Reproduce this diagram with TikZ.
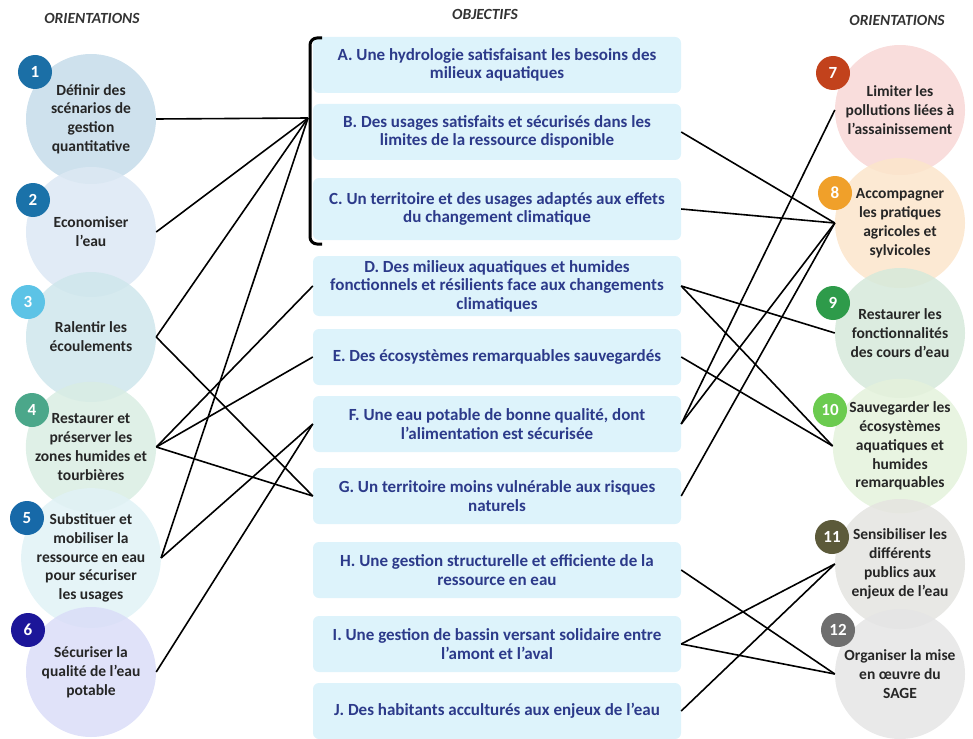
\documentclass[tikz,border=0pt]{standalone}
\usepackage{fontspec}
\setmainfont{Carlito}
\usepackage{xcolor}
\usetikzlibrary{positioning}

\definecolor{boxblue}{HTML}{DDF3FB}
\definecolor{boxtext}{HTML}{2C3A8A}
\definecolor{headgray}{HTML}{333333}
\definecolor{textgray}{HTML}{262626}
\definecolor{cA}{HTML}{C6DCEA}\definecolor{bA}{HTML}{1B6FA6}
\definecolor{cB}{HTML}{DCE8F4}\definecolor{bB}{HTML}{1A72A9}
\definecolor{cC}{HTML}{CFE6EC}\definecolor{bC}{HTML}{5CC3E6}
\definecolor{cD}{HTML}{D9EDE3}\definecolor{bD}{HTML}{4BA78A}
\definecolor{cE}{HTML}{E0F2F6}\definecolor{bE}{HTML}{1769A8}
\definecolor{cF}{HTML}{DADDF8}\definecolor{bF}{HTML}{1C1699}
\definecolor{cG}{HTML}{F8D7D6}\definecolor{bG}{HTML}{C2421C}
\definecolor{cH}{HTML}{FCE5CB}\definecolor{bH}{HTML}{F0A02A}
\definecolor{cI}{HTML}{D6E9DA}\definecolor{bI}{HTML}{2E9B4A}
\definecolor{cJ}{HTML}{E4F2DC}\definecolor{bJ}{HTML}{6BCB4F}
\definecolor{cK}{HTML}{E4E4E0}\definecolor{bK}{HTML}{5C5A3A}
\definecolor{cL}{HTML}{E5E5E5}\definecolor{bL}{HTML}{6E6E6E}

\begin{document}
\begin{tikzpicture}[x=1pt,y=-1pt,on grid]
    \tikzstyle{orient}=[shape=circle,minimum size=130pt,inner sep=0pt,fill opacity=0.85,text opacity=1,align=center,text=textgray,font=\bfseries\fontsize{15.5}{18.8}\selectfont]
    \tikzstyle{badge}=[shape=circle,minimum size=34pt,inner sep=0pt,text=white,font=\bfseries\fontsize{17}{17}\selectfont]
    \tikzstyle{objectif}=[shape=rectangle,rounded corners=6pt,fill=boxblue,minimum width=368pt,minimum height=56pt,align=center,text=boxtext,font=\bfseries\fontsize{17}{18.5}\selectfont]
    \tikzstyle{heading}=[text=headgray,font=\bfseries\itshape\fontsize{15.5}{15.5}\selectfont]
    \tikzstyle{link}=[draw,line width=1.6pt]

    \useasboundingbox (0,0) rectangle (973,738);

    \node[heading] (hL) at (92,18) {ORIENTATIONS};
    \node[heading] (hC) at (485,14) {OBJECTIFS};
    \node[heading] (hR) at (897,20) {ORIENTATIONS};

    % orientations, left column
    \node[orient, fill=cA] (L1) at (91,119) {Définir des\\scénarios de\\gestion\\quantitative};
    \node[orient, fill=cB, below=113pt of L1] (L2) {Economiser\\l'eau};
    \node[orient, fill=cC, below=105pt of L2] (L3) {Ralentir les\\écoulements};
    \node[orient, fill=cD, below=110pt of L3] (L4) {Restaurer et\\préserver les\\zones humides et\\tourbières};
    \node[orient, fill=cE, below=111pt of L4] (L5) {Substituer et\\mobiliser la\\ressource en eau\\pour sécuriser\\les usages};
    \node[orient, fill=cF, below=114pt of L5] (L6) {Sécuriser la\\qualité de l'eau\\potable};

    % orientations, right column
    \node[orient, fill=cG] (R7) at (900,110) {Limiter les\\pollutions liées à\\l'assainissement};
    \node[orient, fill=cH, below=113pt of R7] (R8) {Accompagner\\les pratiques\\agricoles et\\sylvicoles};
    \node[orient, fill=cI, below=110pt of R8] (R9) {Restaurer les\\fonctionnalités\\des cours d'eau};
    \node[orient, fill=cJ, below=113pt of R9] (R10) {Sauvegarder les\\écosystèmes\\aquatiques et\\humides\\remarquables};
    \node[orient, fill=cK, below=118pt of R10] (R11) {Sensibiliser les\\différents\\publics aux\\enjeux de l'eau};
    \node[orient, fill=cL, below=110pt of R11] (R12) {Organiser la mise\\en œuvre du\\SAGE};

    \node[badge, fill=bA] (n1) at (35,72) {1};
    \node[badge, fill=bB] (n2) at (33,200) {2};
    \node[badge, fill=bC] (n3) at (28,302) {3};
    \node[badge, fill=bD] (n4) at (32,410) {4};
    \node[badge, fill=bE] (n5) at (27,518) {5};
    \node[badge, fill=bF] (n6) at (28,630) {6};
    \node[badge, fill=bG] (n7) at (833,73) {7};
    \node[badge, fill=bH] (n8) at (835,193) {8};
    \node[badge, fill=bI] (n9) at (833,303) {9};
    \node[badge, fill=bJ] (n10) at (830,410) {10};
    \node[badge, fill=bK] (n11) at (832,537) {11};
    \node[badge, fill=bL] (n12) at (838,630) {12};

    % objectifs
    \node[objectif] (A) at (497,65) {A. Une hydrologie satisfaisant les besoins des\\milieux aquatiques};
    \node[objectif, below=67pt of A] (B) {B. Des usages satisfaits et sécurisés dans les\\limites de la ressource disponible};
    \node[objectif, below=77pt of B, minimum height=62pt] (C) {C. Un territoire et des usages adaptés aux effets\\du changement climatique};
    \node[objectif, below=77pt of C, minimum height=60pt] (D) {D. Des milieux aquatiques et humides\\fonctionnels et résilients face aux changements\\climatiques};
    \node[objectif, below=71pt of D] (E) {E. Des écosystèmes remarquables sauvegardés};
    \node[objectif, below=67pt of E] (F) {F. Une eau potable de bonne qualité, dont\\l'alimentation est sécurisée};
    \node[objectif, below=72pt of F] (G) {G. Un territoire moins vulnérable aux risques\\naturels};
    \node[objectif, below=74pt of G] (H) {H. Une gestion structurelle et efficiente de la\\ressource en eau};
    \node[objectif, below=74pt of H] (I) {I. Une gestion de bassin versant solidaire entre\\l'amont et l'aval};
    \node[objectif, below=67pt of I] (J) {J. Des habitants acculturés aux enjeux de l'eau};

    % bracket round A, B, C
    \draw[line width=3pt, rounded corners=7pt] (322,38) -- (310,38) -- (310,244) -- (322,244);
    \coordinate (brace) at (308,118);

    \path[link]
    (L1.east) edge (brace)
    (L2.east) edge (brace)
    (L3.east) edge (brace)
    (L5.east) edge (brace)
    (L3.east) edge (G.west)
    (L4.east) edge (D.west)
    (L4.east) edge (E.west)
    (L4.east) edge (G.west)
    (L5.east) edge (F.west)
    (L6.east) edge (F.west)

    (B.east) edge (R8.west)
    (C.east) edge (R8.west)
    (D.east) edge (R9.west)
    (D.east) edge (R10.west)
    (E.east) edge (R10.west)
    (F.east) edge (R7.west)
    (F.east) edge (R8.west)
    (G.east) edge (R8.west)
    (H.east) edge (R12.west)
    (I.east) edge (R11.west)
    (I.east) edge (R12.west)
    (J.east) edge (R11.west)
    ;
\end{tikzpicture}
\end{document}
